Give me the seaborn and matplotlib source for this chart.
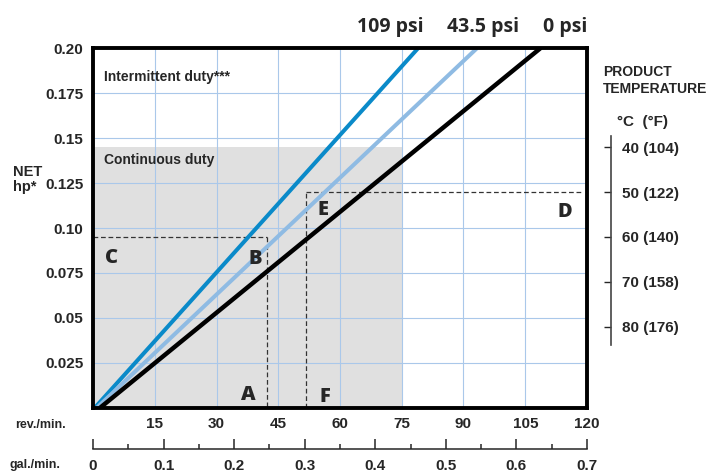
import matplotlib
matplotlib.use('Agg')
import pandas as pd
import matplotlib.pyplot as plt
import seaborn as sns

# pressure curves: rev/min where each line starts (hp = 0) and where it reaches hp = 0.2
psi_labels = ['109 psi', '43.5 psi', '0 psi']
rev_at_zero = [0.5, 1.0, 1.8]
rev_at_top = [78.9, 93.2, 108.6]
hp_ends = [0.0, 0.2]
line_colors = ['#0a8ac9', '#8fbbe3', '#000000']

rev_ticks = [15, 30, 45, 60, 75, 90, 105, 120]
hp_ticks = [0.025, 0.05, 0.075, 0.10, 0.125, 0.15, 0.175, 0.20]
hp_tick_labels = ['0.025', '0.05', '0.075', '0.10', '0.125', '0.15', '0.175', '0.20']
gal_ticks = [0, 0.1, 0.2, 0.3, 0.4, 0.5, 0.6, 0.7]
gal_minor = [0.05, 0.15, 0.25, 0.35, 0.45, 0.55, 0.65]
gal_per_rev = 0.7 / 120

# continuous duty region
cont_rev = 75
cont_hp = 0.145

# product temperature scale
temp_c = [40, 50, 60, 70, 80]
temp_f = [104, 122, 140, 158, 176]
temp_hp = [0.145, 0.12, 0.095, 0.07, 0.045]

# example reading lines (C-B-A and D-E-F)
ex1_rev, ex1_hp = 42.2, 0.095
ex2_rev, ex2_hp, ex2_end = 51.7, 0.12, 118.5

letters = ['A', 'B', 'C', 'D', 'E', 'F']
letter_rev = [37.7, 39.5, 4.5, 114.6, 55.9, 56.4]
letter_hp = [0.0067, 0.0827, 0.0831, 0.1091, 0.110, 0.0058]

sns.set_style('white')
plt.rcParams['font.family'] = ['Liberation Sans', 'DejaVu Sans']
plt.rcParams['font.weight'] = 'bold'

rows = []
for lab, r0, r1 in zip(psi_labels, rev_at_zero, rev_at_top):
    rows.append({'psi': lab, 'rev': r0, 'hp': hp_ends[0]})
    rows.append({'psi': lab, 'rev': r1, 'hp': hp_ends[1]})
df = pd.DataFrame(rows)

W, H = 715, 473
fig = plt.figure(figsize=(W / 100, H / 100), dpi=100)
ax = fig.add_axes([93 / W, 1 - 407.5 / H, 494 / W, 359 / H])

# continuous duty shading
ax.fill_between([0, cont_rev], 0, cont_hp, color='#e0e0e0', lw=0, zorder=0.5)

sns.lineplot(data=df, x='rev', y='hp', hue='psi', palette=dict(zip(psi_labels, line_colors)),
             legend=False, ax=ax, linewidth=2.9, zorder=3)
ax.lines[-1].set_linewidth(3.2)

# dashed reading lines
dash = dict(color='#333333', lw=0.9, ls=(0, (3.8, 2.2)), zorder=2.5)
ax.plot([0, ex1_rev], [ex1_hp, ex1_hp], **dash)
ax.plot([ex1_rev, ex1_rev], [ex1_hp, 0], **dash)
ax.plot([ex2_rev, ex2_rev], [0, ex2_hp], **dash)
ax.plot([ex2_rev, ex2_end], [ex2_hp, ex2_hp], **dash)

for t, x, y in zip(letters, letter_rev, letter_hp):
    ax.text(x, y, t, ha='center', va='center', fontsize=14.5, fontweight='heavy',
            family=['Open Sans', 'DejaVu Sans'], zorder=4)

ax.text(2.7, 0.184, 'Intermittent duty***', fontsize=10, fontweight='bold', va='center')
ax.text(2.7, 0.138, 'Continuous duty', fontsize=10, fontweight='bold', va='center')

ax.set_xlim(0, 120)
ax.set_ylim(0, 0.2)
ax.set_xticks(rev_ticks)
ax.set_xticklabels([str(v) for v in rev_ticks])
ax.set_yticks(hp_ticks)
ax.set_yticklabels(hp_tick_labels)
ax.tick_params(axis='both', length=0, labelsize=11)
ax.tick_params(axis='x', pad=7)
ax.tick_params(axis='y', pad=7)
ax.grid(True, color='#aac8ea', lw=0.8)
ax.set_xlabel('')
ax.set_ylabel('')
for s in ax.spines.values():
    s.set_linewidth(2.8)
    s.set_color('black')
    s.set_zorder(5)

# gal./min. scale under the axis
secax = ax.secondary_xaxis(-0.1156, functions=(lambda r: r * gal_per_rev, lambda g: g / gal_per_rev))
secax.set_xticks(gal_ticks)
secax.set_xticklabels(['0' if v == 0 else f'{v:g}' for v in gal_ticks])
secax.set_xticks(gal_minor, minor=True)
secax.tick_params(which='major', direction='in', length=7, width=1.1, pad=7, labelsize=11)
secax.tick_params(which='minor', direction='in', length=3.5, width=1.1)
secax.spines['bottom'].set_bounds(0, 0.7)
secax.spines['bottom'].set_linewidth(1.1)

# temperature scale on the right
ax2 = ax.twinx()
ax2.set_ylim(ax.get_ylim())
ax2.set_yticks(temp_hp)
ax2.set_yticklabels([f'{c} ({f})' for c, f in zip(temp_c, temp_f)])
ax2.tick_params(axis='y', direction='in', length=5, width=1.0, pad=8, labelsize=11)
for k in ['top', 'left', 'bottom']:
    ax2.spines[k].set_visible(False)
ax2.spines['right'].set_position(('outward', 17.3))
ax2.spines['right'].set_bounds(0.035, 0.151)
ax2.spines['right'].set_linewidth(1.2)
ax2.spines['right'].set_color('#444444')
ax2.grid(False)

# labels around the chart
for lab, xpx in zip(psi_labels, [357, 447, 543]):
    fig.text(xpx / W, 1 - 32 / H, lab, fontsize=14, fontweight='bold',
             family=['Open Sans', 'DejaVu Sans'], va='baseline', ha='left')
fig.text(13 / W, 1 - 165 / H, 'NET\nhp*', fontsize=10.5, fontweight='bold', va='top', ha='left',
         linespacing=1.1)
fig.text(603 / W, 1 - 65 / H, 'PRODUCT\nTEMPERATURE', fontsize=10, fontweight='bold',
         va='top', ha='left', linespacing=1.25)
fig.text(617 / W, 1 - 122 / H, '°C  (°F)', fontsize=11, fontweight='bold', va='center', ha='left')
fig.text(15 / W, 1 - 425 / H, 'rev./min.', fontsize=9, fontweight='bold', va='center', ha='left')
fig.text(10 / W, 1 - 465 / H, 'gal./min.', fontsize=9, fontweight='bold', va='center', ha='left')

fig.savefig('out.png', dpi=100)
